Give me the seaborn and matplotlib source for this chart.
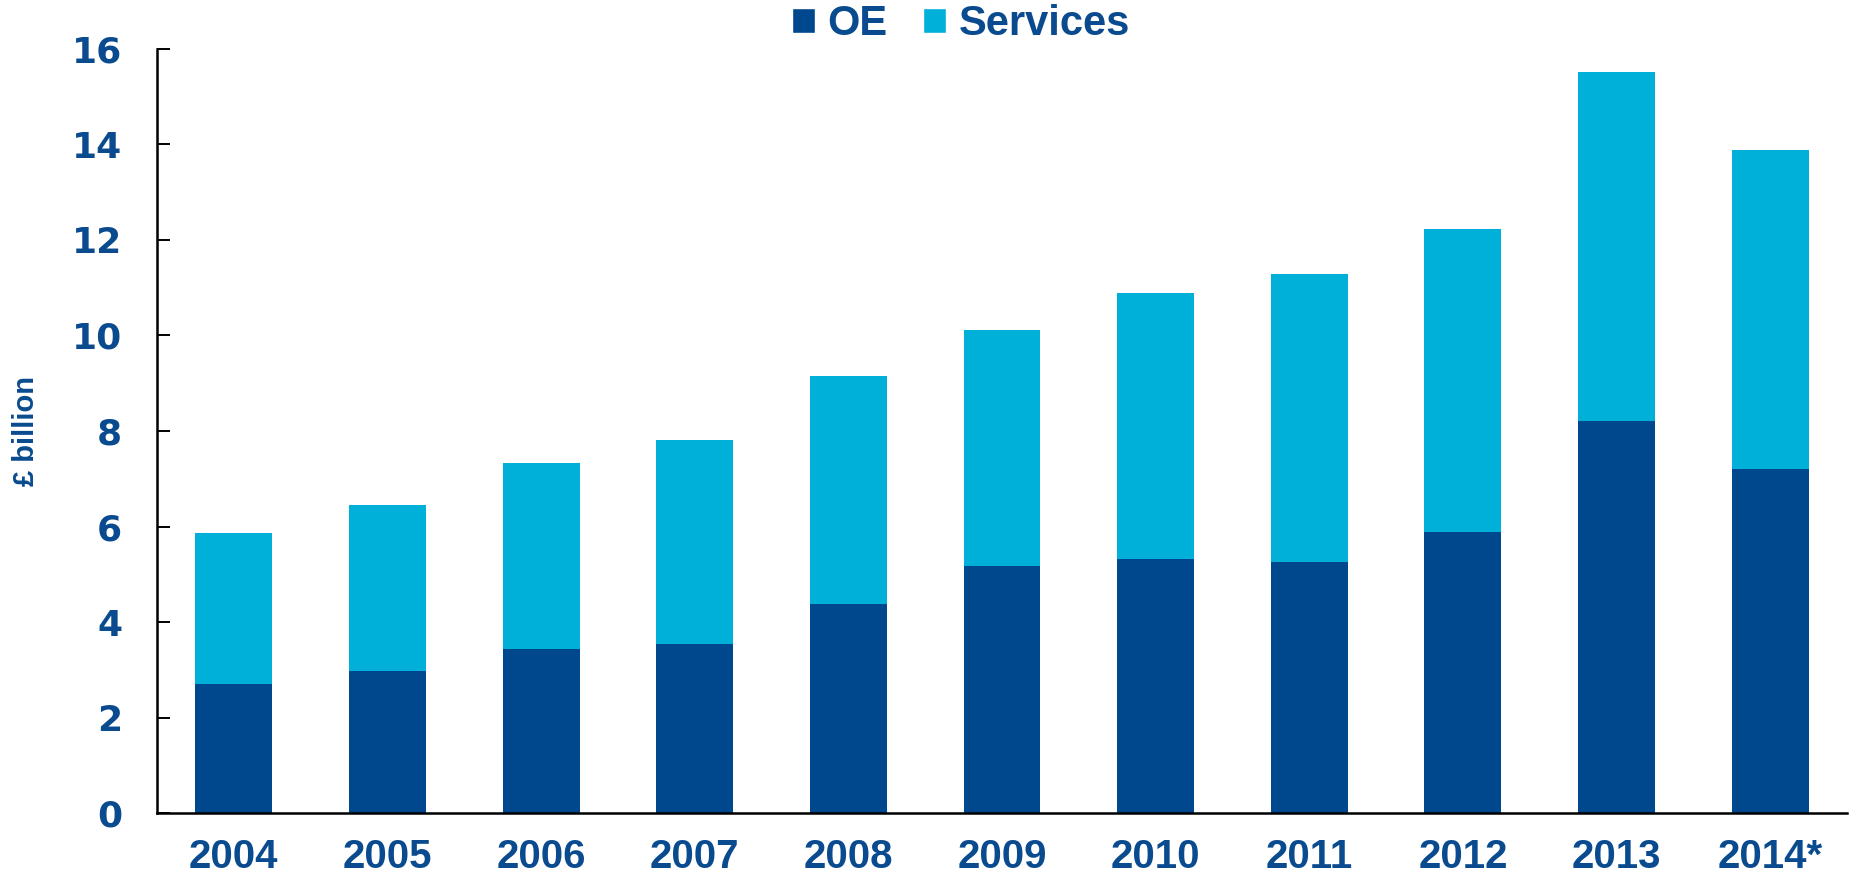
import matplotlib
matplotlib.use("Agg")
import matplotlib.pyplot as plt
from matplotlib.patches import Patch
import seaborn as sns
import pandas as pd

# Annual values, £ billion
years = ["2004", "2005", "2006", "2007", "2008", "2009", "2010", "2011", "2012", "2013", "2014*"]
oe = [2.70, 2.99, 3.44, 3.54, 4.38, 5.17, 5.32, 5.27, 5.89, 8.21, 7.20]
services = [3.16, 3.46, 3.90, 4.27, 4.77, 4.94, 5.56, 6.01, 6.33, 7.29, 6.67]
y_ticks = [0, 2, 4, 6, 8, 10, 12, 14, 16]

OE_COLOR = "#00488E"
SERV_COLOR = "#00B0D8"
TEXT_COLOR = "#0A4B8F"

sns.set_style("white", {"ytick.left": True, "ytick.direction": "in"})
plt.rcParams["font.family"] = ["Liberation Sans", "DejaVu Sans"]
plt.rcParams["font.weight"] = "bold"
plt.rcParams["ytick.direction"] = "in"

df = pd.DataFrame({"year": years, "oe": oe, "services": services})
df["total"] = df["oe"] + df["services"]

fig = plt.figure(figsize=(18.54, 8.84), dpi=100)
ax = fig.add_axes([0.0847, 0.0798, 0.9115, 0.8653])

# Stacked bars: total height in the services colour, OE drawn over the base
sns.barplot(data=df, x="year", y="total", color=SERV_COLOR, width=0.5,
            saturation=1, ax=ax, linewidth=0)
sns.barplot(data=df, x="year", y="oe", color=OE_COLOR, width=0.5,
            saturation=1, ax=ax, linewidth=0)

ax.set_xlim(-0.5, 10.5)
ax.set_ylim(0, 16)
ax.set_yticks(y_ticks)
ax.set_yticklabels([str(t) for t in y_ticks])

for side in ("top", "right"):
    ax.spines[side].set_visible(False)
for side in ("left", "bottom"):
    ax.spines[side].set_color("black")
    ax.spines[side].set_linewidth(1.8)

ax.tick_params(axis="y", which="major", left=True, direction="in", length=9.5,
               width=1.4, color="black", pad=25, labelsize=26,
               labelcolor=TEXT_COLOR)
ax.tick_params(axis="x", bottom=False, length=0, pad=18, labelsize=29,
               labelcolor=TEXT_COLOR)
for lbl in ax.get_xticklabels():
    lbl.set_fontweight("bold")
for lbl in ax.get_yticklabels():
    lbl.set_fontweight("bold")
    lbl.set_family("DejaVu Sans")

ax.set_xlabel("")
ax.set_ylabel("£ billion", fontsize=21, fontweight="bold", color=TEXT_COLOR)
ax.yaxis.set_label_coords(-0.069, 0.5)

handles = [Patch(facecolor=OE_COLOR, label="OE"),
           Patch(facecolor=SERV_COLOR, label="Services")]
leg = fig.legend(handles=handles, loc="center", bbox_to_anchor=(961 / 1854, 1 - 24 / 884),
                 ncol=2, frameon=False, fontsize=30, handlelength=0.55,
                 handleheight=0.55, handletextpad=0.3, columnspacing=0.85,
                 borderaxespad=0, borderpad=0)
for t in leg.get_texts():
    t.set_color(TEXT_COLOR)
    t.set_fontweight("bold")

fig.savefig("out.png", dpi=100)
